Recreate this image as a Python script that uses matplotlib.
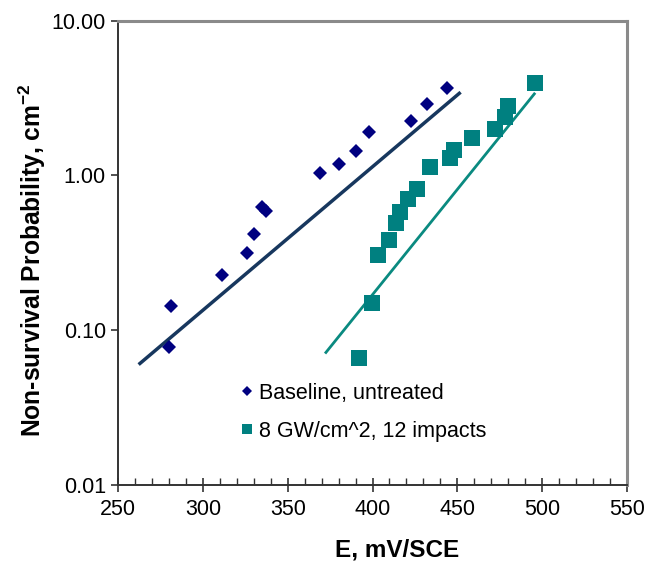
import matplotlib
matplotlib.use("Agg")
import matplotlib.pyplot as plt
from matplotlib.ticker import FixedLocator, MultipleLocator, FixedFormatter, NullLocator

plt.rcParams['font.family'] = ['Liberation Sans', 'DejaVu Sans']

# ---- data ----
base_E = [280, 281, 311, 326, 330, 335, 337, 369, 380, 390, 398, 423, 432, 444]
base_P = [0.078, 0.143, 0.226, 0.315, 0.42, 0.625, 0.59, 1.035, 1.19, 1.435, 1.90, 2.25, 2.90, 3.66]

treat_E = [392, 399.5, 403.5, 409.5, 414, 416, 421, 426.5, 434, 445.5, 448, 458.5, 472, 478, 480, 496]
treat_P = [0.066, 0.151, 0.305, 0.381, 0.495, 0.58, 0.708, 0.82, 1.14, 1.29, 1.45, 1.74, 2.0, 2.38, 2.83, 3.94]

base_fit_E = [262, 452]
base_fit_P = [0.060, 3.45]
treat_fit_E = [372, 496]
treat_fit_P = [0.0707, 3.42]

y_ticks = [0.01, 0.1, 1, 10]
y_tick_labels = ["0.01", "0.10", "1.00", "10.00"]
x_ticks = [250, 300, 350, 400, 450, 500, 550]

labels = ["Baseline, untreated", "8 GW/cm^2, 12 impacts"]

# ---- figure ----
W, H = 646, 565
fig = plt.figure(figsize=(W / 100, H / 100), dpi=100)
L, R, T, B = 118.3, 626.7, 20.7, 485
ax = fig.add_axes([L / W, (H - B) / H, (R - L) / W, (B - T) / H])

ax.plot(base_fit_E, base_fit_P, color='#17375E', lw=2.5, solid_capstyle='butt', zorder=2)
ax.plot(treat_fit_E, treat_fit_P, color='#0A8A80', lw=2.0, solid_capstyle='butt', zorder=2)
h1, = ax.plot(base_E, base_P, ls='none', marker='D', ms=7.4, color='#000080', mew=0, zorder=3)
h2, = ax.plot(treat_E, treat_P, ls='none', marker='s', ms=11, color='#008080', mew=0, zorder=3)

ax.set_yscale('log')
ax.set_xlim(250, 550)
ax.set_ylim(0.01, 10)

ax.yaxis.set_major_locator(FixedLocator(y_ticks))
ax.yaxis.set_major_formatter(FixedFormatter(y_tick_labels))
ax.yaxis.set_minor_locator(NullLocator())
ax.xaxis.set_major_locator(FixedLocator(x_ticks))
ax.xaxis.set_minor_locator(MultipleLocator(10))

ax.tick_params(axis='y', which='major', direction='out', length=5, width=1.2,
               color='#333333', labelsize=15.5, pad=4, right=False)
ax.tick_params(axis='x', which='major', direction='inout', length=10, width=1.2,
               color='#333333', labelsize=15.5, pad=5, top=False)
ax.tick_params(axis='x', which='minor', direction='in', length=5, width=1.0,
               color='#333333', top=False)

for s in ['left', 'bottom']:
    ax.spines[s].set_color('#333333')
    ax.spines[s].set_linewidth(1.4)
for s in ['top', 'right']:
    ax.spines[s].set_color('#8a8a8a')
    ax.spines[s].set_linewidth(2.2)

ax.set_xlabel('E, mV/SCE', fontsize=17.5, fontweight='bold')
ax.xaxis.set_label_coords((397 - L) / (R - L), (B - 539) / (B - T))
ax.set_ylabel(r'Non-survival Probability, cm$^{\mathregular{-2}}$', fontsize=17.7, fontweight='bold')
ax.yaxis.set_label_coords((32 - L) / (R - L), (B - 260) / (B - T))
ax.yaxis.label.set_va('center')

ax.legend([h1, h2], labels, loc='center left',
          bbox_to_anchor=((239 - L) / (R - L), (B - 412.3) / (B - T)),
          frameon=False, fontsize=15.5, markerscale=0.62, handlelength=0.7,
          handletextpad=0.25, borderpad=0, labelspacing=0.8, borderaxespad=0)

fig.savefig('out.png', dpi=100)
